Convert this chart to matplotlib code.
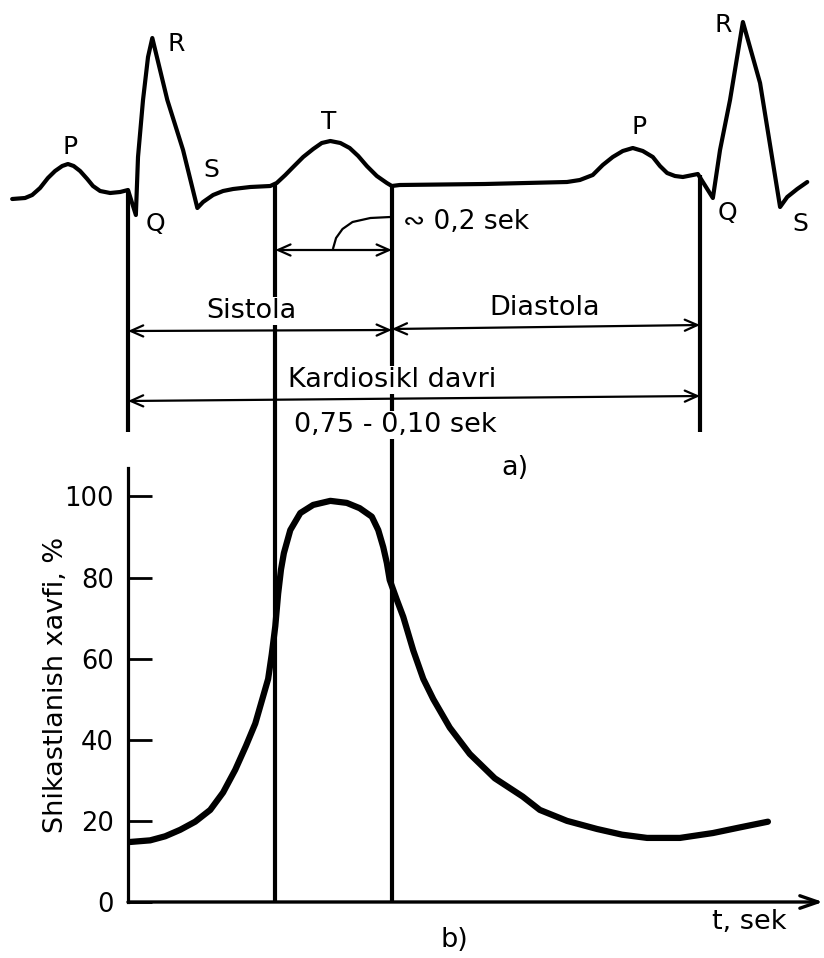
import matplotlib
matplotlib.use("Agg")
import matplotlib.pyplot as plt
from matplotlib.patches import FancyArrowPatch

plt.rcParams['font.family'] = ['DejaVu Sans']

# ---------------- data ----------------
# Shared time scale (s); Q onset at t = 0, cardio cycle 0.8 s
cycle_marks = [0.0, 0.206, 0.369, 0.8]       # Q, T start, T end (systole end), next Q

# ECG trace: time (s) and drawing row (pixel row from top, smaller = higher)
ecg_t = [-0.162, -0.144, -0.134, -0.123, -0.112, -0.102, -0.092, -0.084, -0.076,
         -0.067, -0.057, -0.049, -0.039, -0.025, -0.011, 0.000, 0.011, 0.014,
         0.021, 0.028, 0.034, 0.055, 0.077, 0.097, 0.105, 0.119, 0.133, 0.147,
         0.171, 0.199, 0.208, 0.220, 0.231, 0.245, 0.259, 0.271, 0.283, 0.297,
         0.310, 0.322, 0.334, 0.348, 0.362, 0.369, 0.380, 0.499, 0.614, 0.632,
         0.650, 0.664, 0.678, 0.692, 0.706, 0.720, 0.734, 0.744, 0.754, 0.765,
         0.776, 0.797, 0.818, 0.828, 0.842, 0.860, 0.884, 0.912, 0.922, 0.936, 0.950]
ecg_y = [199, 198, 195, 188, 178, 171, 166, 164, 166,
         171, 179, 186, 191, 193, 192, 190, 215, 157,
         100, 57, 38, 100, 150, 208, 202, 195, 191, 189,
         187, 186, 183, 175, 167, 157, 149, 143, 141, 143,
         148, 156, 166, 176, 183, 186, 185, 184, 182, 180,
         175, 165, 157, 151, 148, 151, 157, 166, 173, 176,
         177, 174, 198, 150, 100, 22, 83, 207, 197, 189, 182]

# Risk of damage (%) vs time (s)
risk_t = [0.003, 0.031, 0.052, 0.073, 0.094, 0.115, 0.133, 0.150, 0.165, 0.178,
          0.187, 0.196, 0.201, 0.206, 0.210, 0.214, 0.218, 0.227, 0.241, 0.259,
          0.283, 0.306, 0.324, 0.341, 0.350, 0.357, 0.362, 0.366, 0.376, 0.385,
          0.399, 0.413, 0.427, 0.450, 0.478, 0.513, 0.552, 0.576, 0.614, 0.656,
          0.691, 0.726, 0.772, 0.818, 0.856, 0.895]
risk_v = [14.8, 15.2, 16.2, 17.8, 19.8, 22.7, 27, 32.6, 38.5, 44,
          49.5, 55, 61, 68, 76, 82, 86, 91.7, 95.9, 97.9,
          98.9, 98.4, 97.1, 95, 91.7, 87.5, 83.6, 79.4, 74.5, 70.3,
          62, 55, 50, 43, 36.5, 30.5, 26, 22.7, 20, 18,
          16.6, 15.8, 15.8, 17, 18.4, 19.8]

yticks = [0, 20, 40, 60, 80, 100]

ecg_labels = [("P", -0.081, 147), ("R", 0.067, 44), ("Q", 0.038, 224), ("S", 0.116, 170),
              ("T", 0.281, 122), ("P", 0.715, 127), ("R", 0.832, 25), ("Q", 0.838, 213),
              ("S", 0.940, 224)]

# ---------------- figure ----------------
W, H = 824, 958
fig = plt.figure(figsize=(W / 100, H / 100), dpi=100)
K = 715.0          # pixels per second
X0 = 128.0         # pixel column of t = 0
tmin, tmax = -X0 / K, (W - X0) / K

ov = fig.add_axes([0, 0, 1, 1])
ov.set_xlim(tmin, tmax)
ov.set_ylim(H, 0)
ov.axis('off')

# risk axes
y_px0, y_px_top = 902, 468
ppu = 4.056
ax = fig.add_axes([X0 / W, (H - y_px0) / H, (823 - X0) / W, (y_px0 - y_px_top) / H])
ax.set_xlim(0, (823 - X0) / K)
ax.set_ylim(0, (y_px0 - y_px_top) / ppu)
ax.patch.set_alpha(0)
for s in ['top', 'right', 'bottom']:
    ax.spines[s].set_visible(False)
ax.spines['left'].set_linewidth(2.3)
ax.set_xticks([])
ax.set_yticks(yticks)
ax.set_yticklabels([str(v) for v in yticks], fontsize=18.5)
ax.tick_params(axis='y', direction='in', length=17, width=2, pad=10, color='black')
ax.set_ylabel("Shikastlanish xavfi, %", fontsize=19.5, labelpad=-3)
ax.plot(risk_t, risk_v, color='black', lw=4.5, solid_capstyle='round',
        solid_joinstyle='round', zorder=3)
ax.annotate("", xy=(ax.get_xlim()[1], 0), xytext=(0, 0),
            arrowprops=dict(arrowstyle='->,head_length=1.3,head_width=0.45', lw=2.4,
                            color='black', shrinkA=0, shrinkB=0), annotation_clip=False)

# vertical marker lines
vspans = [(190, 432), (183, 902), (186, 902), (175, 432)]
for t, (y0, y1) in zip(cycle_marks, vspans):
    ov.plot([t, t], [y0, y1], color='black', lw=3.0, solid_capstyle='butt', zorder=1)

# ECG trace
ov.plot(ecg_t, ecg_y, color='black', lw=3.0, solid_joinstyle='round',
        solid_capstyle='round', zorder=2)

def dim_arrow(x0, y0, x1, y1):
    a = FancyArrowPatch((x0, y0), (x1, y1), arrowstyle='<->,head_length=9,head_width=4',
                        lw=1.6, color='black', shrinkA=0, shrinkB=0, zorder=2)
    ov.add_patch(a)

dim_arrow(cycle_marks[1], 250, cycle_marks[2], 250)
dim_arrow(cycle_marks[0], 331, cycle_marks[2], 330)
dim_arrow(cycle_marks[2], 329, cycle_marks[3], 325)
dim_arrow(cycle_marks[0], 401, cycle_marks[3], 396)

# curved leader for ~0.2 s
lead_t = [0.367, 0.339, 0.314, 0.300, 0.291, 0.287]
lead_y = [217, 218, 222, 229, 238, 248]
ov.plot(lead_t, lead_y, color='black', lw=1.6)

for txt, t, y in ecg_labels:
    ov.text(t, y, txt, fontsize=18, ha='center', va='center')

box = dict(facecolor='white', edgecolor='none', pad=1)
ov.text(0.385, 222, "∾ 0,2 sek", fontsize=19, ha='left', va='center')
ov.text(0.172, 311, "Sistola", fontsize=19.5, ha='center', va='center', bbox=box, zorder=3)
ov.text(0.583, 308, "Diastola", fontsize=19.5, ha='center', va='center', bbox=box, zorder=3)
ov.text(0.369, 380, "Kardiosikl davri", fontsize=19.5, ha='center', va='center', bbox=box, zorder=3)
ov.text(0.374, 425, "0,75 - 0,10 sek", fontsize=19.5, ha='center', va='center', bbox=box, zorder=3)
ov.text(0.541, 468, "a)", fontsize=19.5, ha='center', va='center')
ov.text(0.457, 940, "b)", fontsize=19.5, ha='center', va='center')
ov.text(0.869, 922, "t, sek", fontsize=19.5, ha='center', va='center')

fig.savefig("out.png", dpi=100)
